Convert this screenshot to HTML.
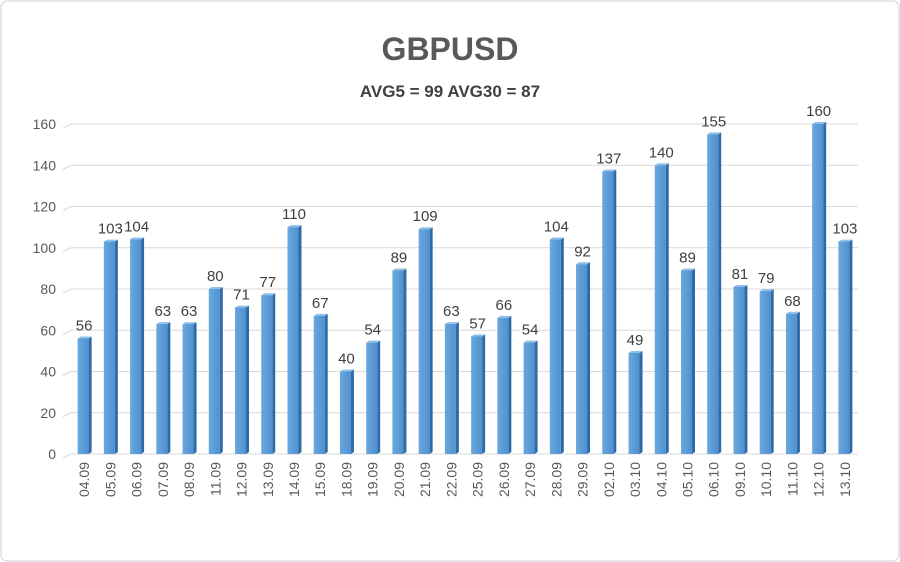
<!DOCTYPE html>
<html><head><meta charset="utf-8"><style>
body{margin:0;background:#fff;}
svg{display:block;font-family:"Liberation Sans",sans-serif;}
</style></head><body>
<svg id="chart" width="900" height="562">
<defs>
<linearGradient id="front" x1="0" x2="1" y1="0" y2="0">
<stop offset="0" stop-color="#6aa8de"/><stop offset="1" stop-color="#4f90cf"/>
</linearGradient>
</defs>
<rect x="1" y="1" width="898" height="560" rx="6" fill="#fff" stroke="#d0d0d0"/>
<text x="450" y="60" text-anchor="middle" font-size="32" font-weight="bold" fill="#595959">GBPUSD</text>
<text x="450" y="97" text-anchor="middle" font-size="17" font-weight="bold" fill="#404040">AVG5 = 99 AVG30 = 87</text>
<g id="grid"></g><g id="bars"></g><g id="labels"></g>
</svg>
<script>
const categories=["04.09","05.09","06.09","07.09","08.09","11.09","12.09","13.09","14.09","15.09","18.09","19.09","20.09","21.09","22.09","25.09","26.09","27.09","28.09","29.09","02.10","03.10","04.10","05.10","06.10","09.10","10.10","11.10","12.10","13.10"];
const values=[56,103,104,63,63,80,71,77,110,67,40,54,89,109,63,57,66,54,104,92,137,49,140,89,155,81,79,68,160,103];
const yTicks=[0,20,40,60,80,100,120,140,160];
const NS="http://www.w3.org/2000/svg";
const x0=71,x1=858,y0=454,yTop=124,yMax=160;
const slot=(x1-x0)/categories.length;
const yS=v=>y0-(v/yMax)*(y0-yTop);
const xC=i=>x0+slot*(i+0.5);
function mk(t,a,p){const e=document.createElementNS(NS,t);for(const k in a)e.setAttribute(k,a[k]);p.appendChild(e);return e;}
const grid=document.getElementById('grid'),bars=document.getElementById('bars'),labels=document.getElementById('labels');
yTicks.forEach(v=>{
 const y=yS(v);
 const l=mk('polyline',{points:`${x0-8},${y+4} ${x0},${y} ${x1},${y}`,fill:'none',stroke:'#d9d9d9','stroke-width':1},grid);
 
 
 const t=mk('text',{x:x0-15,y:y+5,'text-anchor':'end','font-size':14,fill:'#595959'},grid);
 t.textContent=v;
 
 
});
values.forEach((v,i)=>{
 const cx=xC(i),w=11,y=yS(v),l=cx-6.5;
 const g=mk('g',{},bars);
 
 
 mk('polygon',{points:`${l+w},${y} ${l+w+3},${y-2} ${l+w+3},${y0-2} ${l+w},${y0}`,fill:'#2e6aa6'},g);
 mk('polygon',{points:`${l},${y} ${l+3},${y-2} ${l+w+3},${y-2} ${l+w},${y}`,fill:'#8fc0ea'},g);
 mk('rect',{x:l,y:y,width:w,height:y0-y,fill:'url(#front)'},g);
 const t=mk('text',{x:cx,y:y-8,'text-anchor':'middle','font-size':15,fill:'#404040'},labels);
 t.textContent=v;
 
 
 const c=mk('text',{x:0,y:0,'text-anchor':'end','font-size':14,fill:'#595959',transform:`translate(${cx+5},${y0+8}) rotate(-90)`},labels);
 c.textContent=categories[i];
 
 
});
</script>
</body></html>
